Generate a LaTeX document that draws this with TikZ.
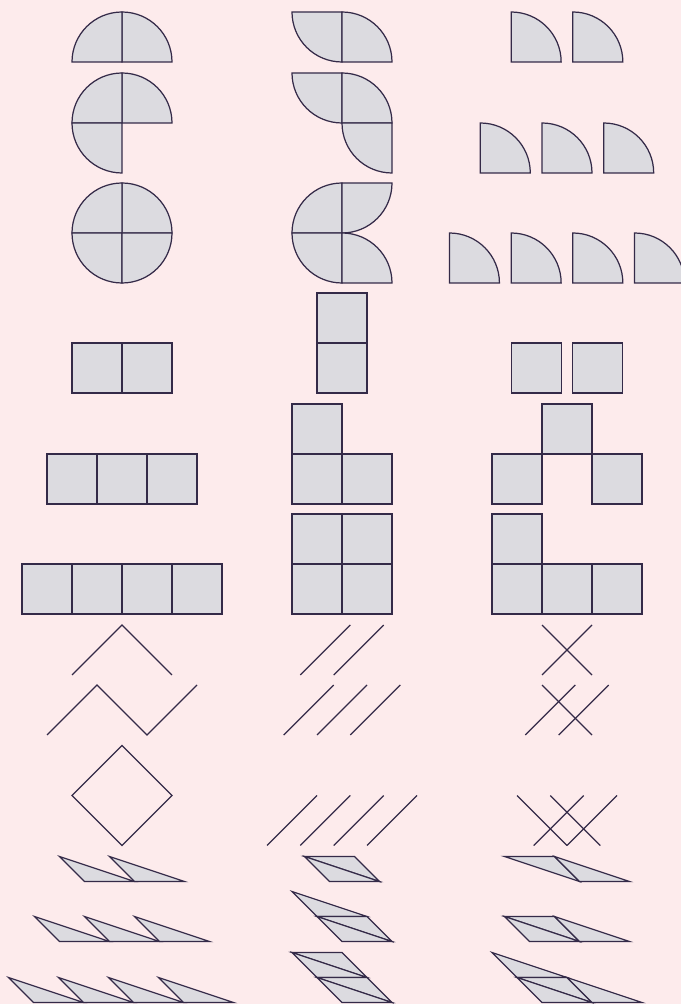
\documentclass[tikz,border=0pt]{standalone}
\usepackage{tikz}
\definecolor{bgpink}{RGB}{253,235,236}
\definecolor{tilefill}{RGB}{220,219,224}
\definecolor{tileline}{RGB}{52,42,72}
\tikzset{piece/.style={fill=tilefill,draw=tileline,line width=0.7pt},
  stick/.style={draw=tileline,line width=0.7pt}}
% quarter disc: corner x, corner y, start angle
\newcommand{\qdisc}[3]{\draw[piece] ({#1},{#2}) -- ++({#3}:1) arc ({#3}:{#3+90}:1) -- cycle;}
\newcommand{\tile}[2]{\draw[piece] ({#1},{#2}) rectangle ++(1,1);}
% triangle from its bottom left corner
\newcommand{\lowtri}[2]{\draw[piece] ({#1},{#2}) -- ++(1,0) -- ++(-1.5,0.5) -- cycle;}
% triangle from its top left corner
\newcommand{\toptri}[2]{\draw[piece] ({#1},{#2}) -- ++(1,0) -- ++(0.5,-0.5) -- cycle;}
% two triangles, top left corner
\newcommand{\rhomb}[2]{\toptri{#1}{#2}\lowtri{#1+0.5}{#2-0.5}}

\begin{document}
\begin{tikzpicture}
\clip (0,0) rectangle (13.62,20.08);
\fill[bgpink] (0,0) rectangle (13.62,20.08);
% quarter discs
\foreach \a in {0,90} {\qdisc{2.44}{18.84}{\a}}
\qdisc{6.84}{19.84}{180}
\qdisc{6.84}{18.84}{0}
\foreach \i in {0,1} {\qdisc{10.223+1.234*\i}{18.84}{0}}
\foreach \a in {0,90,180} {\qdisc{2.44}{17.62}{\a}}
\qdisc{6.84}{18.62}{180}
\qdisc{6.84}{17.62}{0}
\qdisc{7.84}{17.62}{180}
\foreach \i in {0,1,2} {\qdisc{9.606+1.234*\i}{16.62}{0}}
\foreach \a in {0,90,180,270} {\qdisc{2.44}{15.42}{\a}}
\qdisc{6.84}{15.42}{90}
\qdisc{6.84}{16.42}{270}
\qdisc{6.84}{15.42}{180}
\qdisc{6.84}{14.42}{0}
\foreach \i in {0,...,3} {\qdisc{8.989+1.234*\i}{14.42}{0}}
% squares
\tile{1.44}{12.22} \tile{2.44}{12.22}
\tile{6.34}{12.22} \tile{6.34}{13.22}
\tile{10.223}{12.22} \tile{11.457}{12.22}
\foreach \i in {0,1,2} {\tile{0.94+\i}{10}}
\tile{5.84}{10} \tile{6.84}{10} \tile{5.84}{11}
\tile{9.84}{10} \tile{10.84}{11} \tile{11.84}{10}
\foreach \i in {0,...,3} {\tile{0.44+\i}{7.8}}
\foreach \i in {0,1} {\tile{5.84+\i}{7.8} \tile{5.84+\i}{8.8}}
\foreach \i in {0,1,2} {\tile{9.84+\i}{7.8}}
\tile{9.84}{8.8}
% sticks
\draw[stick] (1.44,6.58) -- (2.44,7.58) -- (3.44,6.58);
\foreach \i in {0,1} {\draw[stick] (6.007+0.667*\i,6.58) -- ++(1,1);}
\draw[stick] (10.84,6.58) -- ++(1,1);
\draw[stick] (10.84,7.58) -- ++(1,-1);
\draw[stick] (0.94,5.38) -- ++(1,1) -- ++(1,-1) -- ++(1,1);
\foreach \i in {0,1,2} {\draw[stick] (5.673+0.667*\i,5.38) -- ++(1,1);}
\draw[stick] (10.507,5.38) -- ++(1,1);
\draw[stick] (11.173,5.38) -- ++(1,1);
\draw[stick] (10.84,6.38) -- ++(1,-1);
\draw[stick] (2.44,5.17) -- ++(1,-1) -- ++(-1,-1) -- ++(-1,1) -- cycle;
\foreach \i in {0,...,3} {\draw[stick] (5.34+0.667*\i,3.17) -- ++(1,1);}
\foreach \i in {0,1} {\draw[stick] (10.34+0.667*\i,4.17) -- ++(1,-1);
  \draw[stick] (10.673+0.667*\i,3.17) -- ++(1,1);}
% triangles
\foreach \i in {0,1} {\lowtri{1.69+\i}{2.45}}
\rhomb{6.09}{2.95}
\toptri{10.09}{2.95} \lowtri{11.59}{2.45}
\foreach \i in {0,1,2} {\lowtri{1.19+\i}{1.25}}
\lowtri{6.34}{1.75} \rhomb{6.34}{1.75}
\rhomb{10.09}{1.75} \lowtri{11.59}{1.25}
\foreach \i in {0,...,3} {\lowtri{0.67+\i}{0.03}}
\rhomb{5.84}{1.03} \rhomb{6.34}{0.53}
\lowtri{10.34}{0.53} \rhomb{10.34}{0.53} \lowtri{11.84}{0.03}
\end{tikzpicture}
\end{document}
